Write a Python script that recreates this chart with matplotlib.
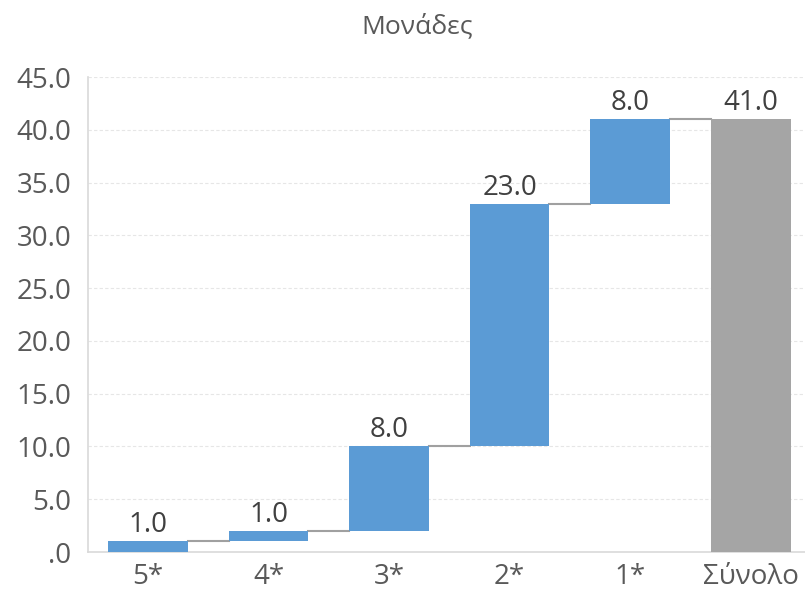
import numpy as np
import matplotlib.pyplot as plt
from matplotlib.ticker import FuncFormatter

# waterfall data
categories = ["5*", "4*", "3*", "2*", "1*", "Σύνολο"]
steps = [1.0, 1.0, 8.0, 23.0, 8.0]
total = sum(steps)

BLUE = "#5B9BD5"
GREY = "#A5A5A5"
TEXT = "#595959"

plt.rcParams['font.family'] = ['Open Sans', 'DejaVu Sans']

fig = plt.figure(figsize=(8.05, 6.05), dpi=100)
ax = fig.add_axes([0.109, 0.0876, 0.891, 0.785])

x = np.arange(len(categories))
width = 0.66
bottoms = np.concatenate([[0], np.cumsum(steps)[:-1]])
tops = np.cumsum(steps)

ax.bar(x[:-1], steps, width, bottom=bottoms, color=BLUE, zorder=3)
ax.bar(x[-1], total, width, color=GREY, zorder=3)

# connectors between bars
for i, lvl in enumerate(tops):
    ax.plot([x[i] + width / 2, x[i + 1] - width / 2], [lvl, lvl],
            color="#A0A0A0", lw=1.5, zorder=2)

# value labels
values = steps + [total]
heights = list(tops) + [total]
for xi, v, h in zip(x, values, heights):
    ax.text(xi, h + 0.2, f"{v:.1f}", ha="center", va="bottom",
            fontsize=20, color="#404040")

ax.set_xlim(-0.5, 5.45)
ax.set_ylim(0, 45)
ax.set_yticks(np.arange(0, 46, 5))
ax.yaxis.set_major_formatter(FuncFormatter(lambda v, p: f"{v:.1f}".lstrip("0")))
ax.set_xticks(x)
ax.set_xticklabels(categories)
ax.tick_params(axis="both", length=0, labelsize=20, labelcolor=TEXT)
ax.tick_params(axis="y", pad=12)
ax.tick_params(axis="x", pad=8)

ax.grid(axis="y", color="#E6E6E6", linestyle=(0, (3, 2)), lw=0.8, zorder=0)
for side in ["top", "right"]:
    ax.spines[side].set_visible(False)
for side in ["left", "bottom"]:
    ax.spines[side].set_color("#D9D9D9")
    ax.spines[side].set_linewidth(1.2)

fig.text(0.518, 0.957, "Μονάδες", ha="center", va="center", fontsize=19, color=TEXT)

fig.savefig("out.png", dpi=100)
